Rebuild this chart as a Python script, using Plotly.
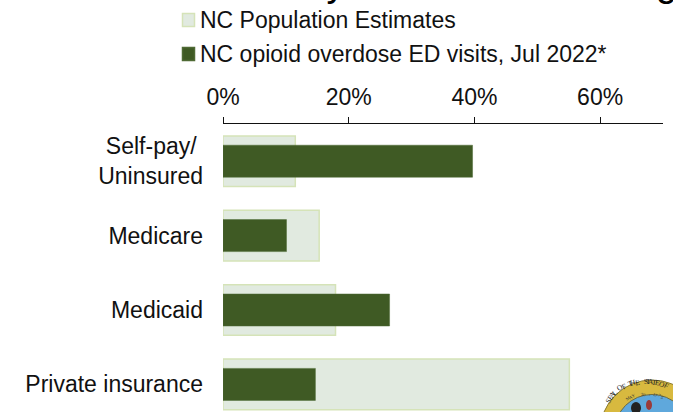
import math
import plotly.graph_objects as go

categories = ["Self-pay/&nbsp;<br>Uninsured", "Medicare", "Medicaid", "Private insurance"]
population = [11.5, 15.3, 17.9, 55.1]
visits = [39.7, 10.1, 26.5, 14.7]
tick_values = [0, 20, 40, 60]
tick_labels = ["0%", "20%", "40%", "60%"]
series_names = ["NC Population Estimates", "NC opioid overdose ED visits, Jul 2022*"]
title_text = "Overdose ED Visits by Insurance Coverage"
seal_rim_text = "SEAL OF THE STATE OF"
seal_date_text = "MAY 20, 1775"

W, H = 673, 412
L, R, T = 223, 663, 124
PITCH = 74.4
FONT = "Liberation Sans, Arial, sans-serif"
POP_FILL, POP_EDGE = "#E1EAE0", "#D5E3B8"
VIS_FILL, VIS_EDGE = "#3F5A24", "#4F6A34"


def px(x):
    return (x - L) / (R - L)


def py(y):
    return 1 - (y - T) / (H - T)


fig = go.Figure()
fig.add_bar(y=categories, x=population, orientation="h", width=0.68, name=series_names[0],
            marker=dict(color=POP_FILL, line=dict(color=POP_EDGE, width=1.5)))
fig.add_bar(y=categories, x=visits, orientation="h", width=0.43, name=series_names[1],
            marker=dict(color=VIS_FILL, line=dict(color=VIS_EDGE, width=0.5)))

fig.update_layout(
    width=W, height=H, margin=dict(l=L, r=W - R, t=T, b=0, autoexpand=False),
    paper_bgcolor="white", plot_bgcolor="white", barmode="overlay", showlegend=False,
    font=dict(family=FONT, color="#111"),
    xaxis=dict(range=[0, 70], tickmode="array", tickvals=tick_values, ticktext=tick_labels,
               side="top", ticks="outside", ticklen=6, tickwidth=1.3, tickcolor="#111",
               showline=True, linecolor="#111", linewidth=1.3, showgrid=False, zeroline=False,
               ticklabelstandoff=3, tickfont=dict(size=23, color="#111")),
    yaxis=dict(range=[-0.5 + (H - T) / PITCH, -0.5], type="category", categoryorder="array",
               categoryarray=categories, ticks="", showline=False, showgrid=False,
               zeroline=False, ticklabelstandoff=19, tickfont=dict(size=23, color="#111")),
)

shapes = []
annotations = []
for name, fill, edge, cy in zip(series_names, [POP_FILL, VIS_FILL], [POP_EDGE, VIS_EDGE], [20, 54]):
    shapes.append(dict(type="rect", xref="paper", yref="paper", x0=px(182.5), x1=px(194.5),
                       y0=py(cy - 6.5), y1=py(cy + 6.5), fillcolor=fill, line=dict(color=edge, width=1.5)))
    annotations.append(dict(text=name, xref="paper", yref="paper", x=px(198), y=py(cy),
                            xanchor="left", yanchor="middle", showarrow=False,
                            font=dict(size=23, color="#111")))

annotations.append(dict(text=title_text, xref="paper", yref="paper", x=px(700), y=py(6),
                        xanchor="right", yanchor="bottom", showarrow=False,
                        font=dict(size=38, color="#000")))

CX, CY = 652, 432
for r, fill, edge in [(52, "#D8B93F", "#8A7A30"), (37.5, "#5FA8DC", "#6E6A40")]:
    shapes.append(dict(type="circle", xref="paper", yref="paper", x0=px(CX - r), x1=px(CX + r),
                       y0=py(CY + r), y1=py(CY - r), fillcolor=fill, line=dict(color=edge, width=1)))
for x0, x1, y0, y1, color in [(631, 641, 402, 414, "#222"), (646, 652, 400, 410, "#9A3A3A")]:
    shapes.append(dict(type="circle", xref="paper", yref="paper", x0=px(x0), x1=px(x1),
                       y0=py(y1), y1=py(y0), fillcolor=color, line=dict(width=0)))
for i, ch in enumerate(seal_rim_text):
    a = 6 + (i - 14) * 4.4
    annotations.append(dict(text=ch, xref="paper", yref="paper",
                            x=px(CX + 43.5 * math.sin(math.radians(a))),
                            y=py(CY - 43.5 * math.cos(math.radians(a))),
                            textangle=a, showarrow=False,
                            font=dict(size=7.5, color="#222", family="Liberation Serif")))
for i, ch in enumerate(seal_date_text):
    a = -3 + (i - 5.5) * 5.6
    annotations.append(dict(text=ch, xref="paper", yref="paper",
                            x=px(CX + 33 * math.sin(math.radians(a))),
                            y=py(CY - 33 * math.cos(math.radians(a))),
                            textangle=a, showarrow=False,
                            font=dict(size=4.5, color="#333", family="Liberation Serif")))

fig.update_layout(shapes=shapes, annotations=annotations)
fig.write_html("out.html", config={"displayModeBar": False},
               post_script="document.body.style.margin='0';document.body.style.overflow='hidden';")
